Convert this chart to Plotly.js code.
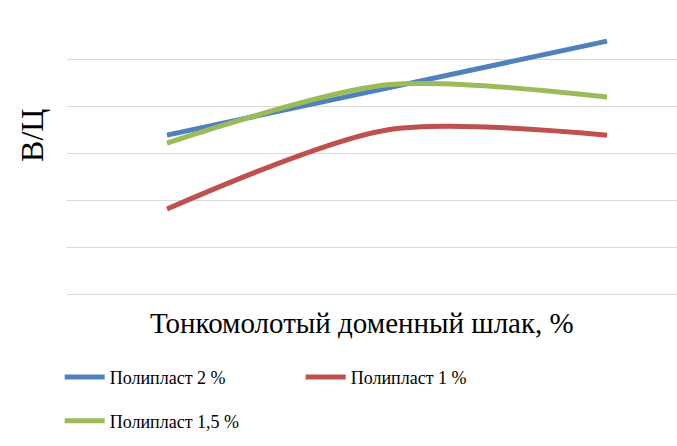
<!DOCTYPE html>
<html>
<head>
<meta charset="utf-8">
<script src="https://cdn.plot.ly/plotly-3.0.1.min.js"></script>
<style>html,body{margin:0;padding:0;background:#fff;}#chart{width:677px;height:446px;}</style>
</head>
<body>
<div id="chart"></div>
<script>
const categories = [0, 1, 2];
const seriesNames = ["Полипласт 2 %", "Полипласт 1 %", "Полипласт 1,5 %"];
const blueValues = [3.38, 4.38, 5.38];
const redValues = [1.81, 3.49, 3.38];
const greenValues = [3.21, 4.45, 4.19];
const xTitle = "Тонкомолотый доменный шлак, %";
const yTitle = "В/Ц";

const colors = ["#4F81BD", "#C0504D", "#9BBB59"];
const legendIds = ["legend", "legend", "legend2"];
const allValues = [blueValues, redValues, greenValues];
const serif = "Liberation Serif";

const traces = allValues.map((vals, i) => ({
  x: categories,
  y: vals,
  type: "scatter",
  mode: "lines",
  name: seriesNames[i],
  legend: legendIds[i],
  line: {color: colors[i], width: 5, shape: "spline", smoothing: 0.8},
  hoverinfo: "skip"
}));

const legendFont = {size: 18, family: serif, color: "#000"};

const layout = {
  width: 677,
  height: 446,
  margin: {l: 67, r: 0, t: 12, b: 152},
  paper_bgcolor: "#ffffff",
  plot_bgcolor: "#ffffff",
  font: {family: serif, color: "#000"},
  xaxis: {
    range: [-0.4545, 2.318],
    showgrid: false,
    zeroline: false,
    showticklabels: false,
    showline: false,
    ticks: ""
  },
  yaxis: {
    range: [0, 6],
    dtick: 1,
    showgrid: true,
    gridcolor: "#d9d9d9",
    gridwidth: 1,
    zeroline: true,
    zerolinecolor: "#d9d9d9",
    zerolinewidth: 1,
    showticklabels: false,
    ticks: ""
  },
  annotations: [{
    text: yTitle,
    xref: "paper", yref: "paper",
    x: -0.0574, y: 0.564,
    xanchor: "center", yanchor: "middle",
    textangle: -90,
    showarrow: false,
    font: {size: 32, family: serif, color: "#000"}
  }, {
    text: xTitle,
    xref: "paper", yref: "paper",
    x: 0.4836, y: -0.1028,
    xanchor: "center", yanchor: "middle",
    showarrow: false,
    font: {size: 29, family: serif, color: "#000"}
  }],
  showlegend: true,
  legend: {
    orientation: "h",
    x: -0.012,
    xanchor: "left",
    y: -0.23,
    yanchor: "top",
    entrywidth: 186,
    entrywidthmode: "pixels",
    font: legendFont,
    itemwidth: 40,
    bgcolor: "rgba(0,0,0,0)"
  },
  legend2: {
    orientation: "h",
    x: -0.012,
    xanchor: "left",
    y: -0.385,
    yanchor: "top",
    font: legendFont,
    itemwidth: 40,
    bgcolor: "rgba(0,0,0,0)"
  }
};

Plotly.newPlot("chart", traces, layout, {staticPlot: true, displayModeBar: false});
</script>
</body>
</html>
